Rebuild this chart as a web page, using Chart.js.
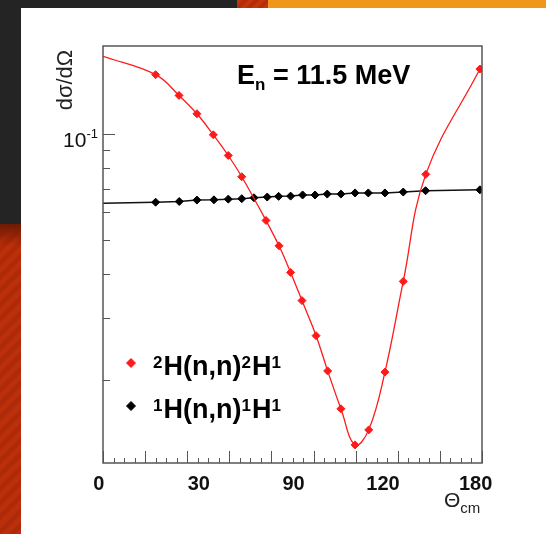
<!DOCTYPE html>
<html>
<head>
<meta charset="utf-8">
<title>n-d and n-p elastic cross sections</title>
<script src="https://cdn.jsdelivr.net/npm/chart.js@4.4.0/dist/chart.umd.min.js"></script>
<style>
  html, body { margin: 0; padding: 0; width: 546px; height: 534px; overflow: hidden; background: #fff; }
  .bar-dark { position: absolute; left: 0; top: 0; width: 237px; height: 8px; background: #242424; }
  .bar-red { position: absolute; left: 237px; top: 0; width: 31px; height: 8px;
    background: repeating-linear-gradient(135deg, #c4340d 0 4px, #b42c09 4px 8px); }
  .bar-orange { position: absolute; left: 268px; top: 0; right: 0; height: 8px; background: #f0961a; }
  .side-dark { position: absolute; left: 0; top: 0; width: 21px; height: 224px; background: #242424; }
  .side-red { position: absolute; left: 0; top: 224px; width: 21px; bottom: 0;
    background: linear-gradient(#6e1a04, rgba(110, 26, 4, 0) 22px),
                repeating-linear-gradient(135deg, #bb2f0a 0 5px, #ae2a08 5px 10px); }
  #chart { position: absolute; left: 0; top: 0; }
</style>
</head>
<body>
<div class="bar-dark"></div><div class="bar-red"></div><div class="bar-orange"></div>
<div class="side-dark"></div><div class="side-red"></div>
<canvas id="chart" width="546" height="534"></canvas>
<script>
// centre-of-mass angle (deg) and dsigma/dOmega for n-d scattering
const dAngles = [0, 25.0, 36.1, 44.6, 52.4, 59.5, 65.9, 77.4, 83.6, 89.1, 94.5, 101.2, 106.7, 113.0, 119.7, 126.2, 133.9, 142.6, 153.3, 179.0];
const dValues = [0.1663, 0.1475, 0.1288, 0.1142, 0.0995, 0.0869, 0.0756, 0.0568, 0.0481, 0.0404, 0.0336, 0.0267, 0.0212, 0.01654, 0.01306, 0.01441, 0.02104, 0.0381, 0.0768, 0.1531];

// same for n-p scattering
const pAngles = [0, 25.0, 36.2, 44.6, 52.7, 59.5, 65.9, 71.7, 78.0, 83.4, 89.1, 94.8, 100.7, 106.5, 113.0, 119.7, 126.0, 133.9, 142.6, 153.2, 179.0];
const pValues = [0.0636, 0.0640, 0.0643, 0.0649, 0.0650, 0.0653, 0.0655, 0.0659, 0.0662, 0.0665, 0.0666, 0.0671, 0.0671, 0.0675, 0.0675, 0.0680, 0.0680, 0.0680, 0.0684, 0.0690, 0.0694];

// axis text
const xTickLabels = ['0', '30', '90', '120', '180'];
const xTickLabelAt = [-2, 45.5, 90.5, 133, 177];
const yMinorTicks = [0.02, 0.03, 0.04, 0.05, 0.06, 0.07, 0.08, 0.09];
const yMajorTick = 0.1;

const FONT = '"Liberation Sans", Arial, Helvetica, sans-serif';
const RED = '#ff1a1a';

function toPoints(xs, ys) {
  return xs.map((x, i) => ({ x: x, y: ys[i] }));
}

// draws a run of text pieces, some raised or lowered
function richText(ctx, x, y, parts, size, small) {
  parts.forEach((p) => {
    const fs = p.sup || p.sub ? small : size;
    ctx.font = (p.normal ? '' : 'bold ') + fs + 'px ' + FONT;
    const dy = p.sup ? -7 : (p.sub ? 6 : 0);
    ctx.fillText(p.t, x, y + dy);
    x += ctx.measureText(p.t).width + (p.gap || 0);
  });
  return x;
}

const frameAndText = {
  id: 'frameAndText',
  afterDatasetsDraw(chart) {
    const { ctx, chartArea: a } = chart;
    const xs = chart.scales.x;
    const ys = chart.scales.y;
    ctx.save();

    // frame
    ctx.strokeStyle = '#555';
    ctx.lineWidth = 1.5;
    ctx.strokeRect(a.left, a.top, a.right - a.left, a.bottom - a.top);

    // x ticks, pointing up into the frame
    ctx.lineWidth = 1;
    ctx.beginPath();
    for (let v = 0; v <= 180; v += 5) {
      const px = Math.round(xs.getPixelForValue(v)) + 0.5;
      const len = v % 20 === 0 ? 12 : 5;
      ctx.moveTo(px, a.bottom);
      ctx.lineTo(px, a.bottom - len);
    }
    // y ticks on the left edge
    yMinorTicks.forEach((v) => {
      const py = Math.round(ys.getPixelForValue(v)) + 0.5;
      ctx.moveTo(a.left, py);
      ctx.lineTo(a.left + 7, py);
    });
    const py1 = Math.round(ys.getPixelForValue(yMajorTick)) + 0.5;
    ctx.moveTo(a.left, py1);
    ctx.lineTo(a.left + 12, py1);
    ctx.stroke();

    ctx.fillStyle = '#111';
    ctx.textBaseline = 'alphabetic';

    // x tick labels
    ctx.font = 'bold 20px ' + FONT;
    ctx.textAlign = 'center';
    xTickLabels.forEach((t, i) => {
      ctx.fillText(t, xs.getPixelForValue(xTickLabelAt[i]), a.bottom + 27);
    });

    // y tick label 10^-1
    ctx.textAlign = 'right';
    ctx.font = '13px ' + FONT;
    ctx.fillText('-1', a.left - 5, py1 + 3);
    const supW = ctx.measureText('-1').width;
    ctx.font = '21px ' + FONT;
    ctx.fillText('10', a.left - 5 - supW, py1 + 12);

    // axis titles
    ctx.textAlign = 'left';
    ctx.fillStyle = '#222';
    richText(ctx, 444, 507, [{ t: '\u0398', normal: true }, { t: 'cm', sub: true, normal: true }], 21, 15);
    ctx.save();
    ctx.translate(72, 80);
    ctx.rotate(-Math.PI / 2);
    ctx.textAlign = 'center';
    ctx.font = '22px ' + FONT;
    ctx.fillText('d\u03c3/d\u03a9', 0, 0);
    ctx.restore();

    // energy
    ctx.fillStyle = '#000';
    richText(ctx, 237, 84, [{ t: 'E' }, { t: 'n', sub: true }, { t: ' = 11.5 MeV' }], 27, 17);

    // legend
    const rows = [
      { color: RED, y: 375, parts: [{ t: '2', sup: true, gap: 1 }, { t: 'H(n,n)' }, { t: '2', sup: true, gap: 1 }, { t: 'H' }, { t: '1', sup: true }] },
      { color: '#000', y: 418, parts: [{ t: '1', sup: true, gap: 1 }, { t: 'H(n,n)' }, { t: '1', sup: true, gap: 1 }, { t: 'H' }, { t: '1', sup: true }] }
    ];
    rows.forEach((r) => {
      ctx.fillStyle = r.color;
      ctx.strokeStyle = r.color;
      Chart.helpers.drawPoint(ctx, { pointStyle: 'rectRot', radius: 4.5, borderWidth: 1 }, 131, r.y - 12);
      ctx.fillStyle = '#000';
      richText(ctx, 153, r.y, r.parts, 27, 17);
    });

    ctx.restore();
  }
};

new Chart(document.getElementById('chart'), {
  type: 'line',
  data: {
    datasets: [
      {
        label: '2H(n,n)2H1',
        data: toPoints(dAngles, dValues),
        borderColor: RED,
        backgroundColor: RED,
        borderWidth: 1.3,
        tension: 0.4,
        pointStyle: 'rectRot',
        pointRadius: (c) => (c.dataIndex === 0 ? 0 : 4),
        pointBorderWidth: 1,
        pointBorderColor: RED,
        pointBackgroundColor: RED
      },
      {
        label: '1H(n,n)1H1',
        data: toPoints(pAngles, pValues),
        borderColor: '#111',
        backgroundColor: '#000',
        borderWidth: 1.5,
        tension: 0,
        pointStyle: 'rectRot',
        pointRadius: (c) => (c.dataIndex === 0 ? 0 : 4),
        pointBorderWidth: 1,
        pointBorderColor: '#000',
        pointBackgroundColor: '#000'
      }
    ]
  },
  options: {
    responsive: false,
    animation: false,
    layout: { padding: { left: 103, top: 46, right: 64, bottom: 71 } },
    plugins: { legend: { display: false }, tooltip: { enabled: false } },
    scales: {
      x: { type: 'linear', min: 0, max: 180, display: false },
      y: { type: 'logarithmic', min: 0.0116, max: 0.178, display: false }
    }
  },
  plugins: [frameAndText]
});
</script>
</body>
</html>
